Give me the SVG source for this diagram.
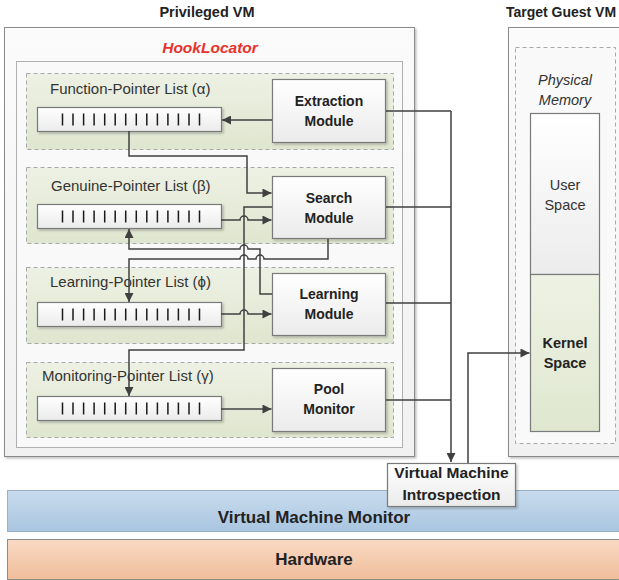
<svg xmlns="http://www.w3.org/2000/svg" width="619" height="580" viewBox="0 0 619 580">
  <defs>
    <style>
      text { font-family: "Liberation Sans", Arial, sans-serif; fill: #222; }
      .title { font-size: 14.5px; font-weight: bold; text-anchor: middle; }
      .lbl { font-size: 15px; fill: #333; }
      .mod { font-size: 14px; font-weight: bold; text-anchor: middle; }
      .big { font-size: 17px; font-weight: bold; text-anchor: middle; }
      .vmi { font-size: 15.5px; font-weight: bold; text-anchor: middle; }
      .mem { font-size: 14.5px; text-anchor: middle; fill: #333; }
      .frame { fill: url(#gFrame); stroke: #8a8a8a; stroke-width: 1; }
      .inner { fill: #f9f9f9; stroke: #b0b0b0; stroke-width: 1; }
      .group { fill: url(#gGreen); stroke: #a8a8a8; stroke-width: 1; stroke-dasharray: 4 3; }
      .box { fill: url(#gBox); stroke: #7a7a7a; stroke-width: 1.2; filter: url(#shadow); }
      .wire { fill: none; stroke: #404040; stroke-width: 1.5; }
      .arrow { marker-end: url(#head); }
    </style>
    <linearGradient id="gFrame" x1="0" y1="0" x2="0" y2="1">
      <stop offset="0" stop-color="#fbfbfb"/>
      <stop offset="1" stop-color="#f1f1f1"/>
    </linearGradient>
    <linearGradient id="gGreen" x1="0" y1="0" x2="0" y2="1">
      <stop offset="0" stop-color="#edf1e4"/>
      <stop offset="1" stop-color="#dfe6cf"/>
    </linearGradient>
    <linearGradient id="gBox" x1="0" y1="0" x2="0" y2="1">
      <stop offset="0" stop-color="#ffffff"/>
      <stop offset="1" stop-color="#ebebeb"/>
    </linearGradient>
    <linearGradient id="gUser" x1="0" y1="0" x2="0" y2="1">
      <stop offset="0" stop-color="#ffffff"/>
      <stop offset="1" stop-color="#ececec"/>
    </linearGradient>
    <linearGradient id="gKernel" x1="0" y1="0" x2="0" y2="1">
      <stop offset="0" stop-color="#eef2e4"/>
      <stop offset="1" stop-color="#dfe7cf"/>
    </linearGradient>
    <linearGradient id="gVmm" x1="0" y1="0" x2="0" y2="1">
      <stop offset="0" stop-color="#c9dcee"/>
      <stop offset="1" stop-color="#a9c5e0"/>
    </linearGradient>
    <linearGradient id="gHw" x1="0" y1="0" x2="0" y2="1">
      <stop offset="0" stop-color="#f9d9c3"/>
      <stop offset="1" stop-color="#f0be9b"/>
    </linearGradient>
    <filter id="shadow" x="-10%" y="-10%" width="130%" height="140%">
      <feDropShadow dx="1.5" dy="1.5" stdDeviation="1" flood-color="#000" flood-opacity="0.25"/>
    </filter>
    <marker id="head" viewBox="0 0 10 10" refX="10" refY="5" markerWidth="10" markerHeight="9" markerUnits="userSpaceOnUse" orient="auto">
      <path d="M0,0 L10,5 L0,10 z" fill="#404040"/>
    </marker>
    <!-- pointer list bar: rectangle with 14 slot ticks -->
    <g id="bar">
      <rect x="0" y="0" width="184" height="24" class="box"/>
      <path d="M25,6V18M35.5,6V18M46.1,6V18M56.6,6V18M67.2,6V18M77.7,6V18M88.2,6V18M98.8,6V18M109.3,6V18M119.9,6V18M130.4,6V18M140.9,6V18M151.5,6V18M162,6V18" stroke="#1a1a1a" stroke-width="1.5"/>
    </g>
  </defs>

  <rect width="619" height="580" fill="#ffffff"/>

  <!-- Privileged VM -->
  <g id="privileged-vm">
    <text class="title" x="207" y="17">Privileged VM</text>
    <rect x="4.5" y="27.5" width="410" height="429" class="frame" filter="url(#shadow)"/>
    <rect x="16.5" y="61.5" width="386" height="386" class="inner"/>
    <text x="210" y="53" font-size="15.5" font-weight="bold" font-style="italic" text-anchor="middle" style="fill:#e8322b">HookLocator</text>
  </g>

  <!-- Target guest VM -->
  <g id="target-vm">
    <text class="title" x="561" y="17" style="font-size:14px">Target Guest VM</text>
    <rect x="508.5" y="27.5" width="130" height="429" class="frame" filter="url(#shadow)"/>
    <rect x="515.5" y="47.5" width="100" height="396" fill="#f9f9f9" stroke="#a8a8a8" stroke-dasharray="4 3"/>
    <text class="mem" x="565" y="85" font-style="italic">Physical</text>
    <text class="mem" x="565" y="105" font-style="italic">Memory</text>
  </g>
  <g id="user-space">
    <rect x="530.5" y="113.5" width="69" height="161" fill="url(#gUser)" stroke="#7a7a7a" stroke-width="1.2"/>
    <text class="mem" x="565" y="190">User</text>
    <text class="mem" x="565" y="210">Space</text>
  </g>
  <g id="kernel-space">
    <rect x="530.5" y="274.5" width="69" height="157" fill="url(#gKernel)" stroke="#7a7a7a" stroke-width="1.2"/>
    <text class="mem" x="565" y="348" font-weight="bold" style="fill:#222">Kernel</text>
    <text class="mem" x="565" y="368" font-weight="bold" style="fill:#222">Space</text>
  </g>

  <!-- Function-pointer list + extraction -->
  <g id="function-pointer-list">
    <rect x="26.5" y="73.5" width="367" height="76" class="group"/>
    <text class="lbl" x="50" y="94">Function-Pointer List (α)</text>
    <use href="#bar" x="37.5" y="107.5"/>
  </g>
  <g id="extraction-module">
    <rect x="272.5" y="79.5" width="113" height="63" class="box"/>
    <text class="mod" x="329" y="106">Extraction</text>
    <text class="mod" x="329" y="126">Module</text>
  </g>

  <!-- Genuine-pointer list + search -->
  <g id="genuine-pointer-list">
    <rect x="26.5" y="167.5" width="367" height="76" class="group"/>
    <text class="lbl" x="51" y="191">Genuine-Pointer List (β)</text>
    <use href="#bar" x="37.5" y="204.5"/>
  </g>
  <g id="search-module">
    <rect x="272.5" y="176.5" width="113" height="62" class="box"/>
    <text class="mod" x="329" y="203">Search</text>
    <text class="mod" x="329" y="223">Module</text>
  </g>

  <!-- Learning-pointer list + learning -->
  <g id="learning-pointer-list">
    <rect x="26.5" y="267.5" width="367" height="76" class="group"/>
    <text class="lbl" x="50" y="287">Learning-Pointer List (ϕ)</text>
    <use href="#bar" x="37.5" y="302.5"/>
  </g>
  <g id="learning-module">
    <rect x="272.5" y="273.5" width="113" height="62" class="box"/>
    <text class="mod" x="329" y="299">Learning</text>
    <text class="mod" x="329" y="319">Module</text>
  </g>

  <!-- Monitoring-pointer list + pool monitor -->
  <g id="monitoring-pointer-list">
    <rect x="26.5" y="362.5" width="367" height="75" class="group"/>
    <text class="lbl" x="42" y="381">Monitoring-Pointer List (γ)</text>
    <use href="#bar" x="37.5" y="396.5"/>
  </g>
  <g id="pool-monitor">
    <rect x="272.5" y="368.5" width="113" height="63" class="box"/>
    <text class="mod" x="329" y="394">Pool</text>
    <text class="mod" x="329" y="414">Monitor</text>
  </g>

  <!-- Hypervisor and hardware layers -->
  <g id="vmm">
    <rect x="7.5" y="490.5" width="620" height="41" fill="url(#gVmm)" stroke="#9ab0c4" stroke-width="1"/>
    <text class="big" x="314" y="523">Virtual Machine Monitor</text>
  </g>
  <g id="hardware">
    <rect x="7.5" y="539.5" width="620" height="40" fill="url(#gHw)" stroke="#8c8c8c" stroke-width="1"/>
    <text class="big" x="314" y="565">Hardware</text>
  </g>

  <!-- Connectors -->
  <g id="connectors">
    <path class="wire arrow" d="M272,120H222"/>
    <path class="wire arrow" d="M129,131V156H247V193H271.5"/>
    <path class="wire arrow" d="M221,220H240A4,4 0 0 1 248,220H271.5"/>
    <path class="wire arrow" d="M272,207H244V350H129V396"/>
    <path class="wire arrow" d="M328,239V259H264A4,4 0 0 0 256,259H248A4,4 0 0 0 240,259H129V302"/>
    <path class="wire arrow" d="M272,294H260V249H248A4,4 0 0 0 240,249H129V229"/>
    <path class="wire arrow" d="M221,314H240A4,4 0 0 1 248,314H271.5"/>
    <path class="wire arrow" d="M221,409H271.5"/>
    <path class="wire" d="M386,111H451M386,207H451M386,303H451M386,400H451"/>
    <path class="wire arrow" d="M451,111V462"/>
    <path class="wire arrow" d="M468,463V353H529.5"/>
  </g>

  <!-- Introspection bridge sitting on the VMM -->
  <g id="vmi">
    <rect x="387.5" y="463.5" width="128" height="43" class="box"/>
    <text class="vmi" x="451.5" y="478">Virtual Machine</text>
    <text class="vmi" x="451.5" y="500">Introspection</text>
  </g>
</svg>
